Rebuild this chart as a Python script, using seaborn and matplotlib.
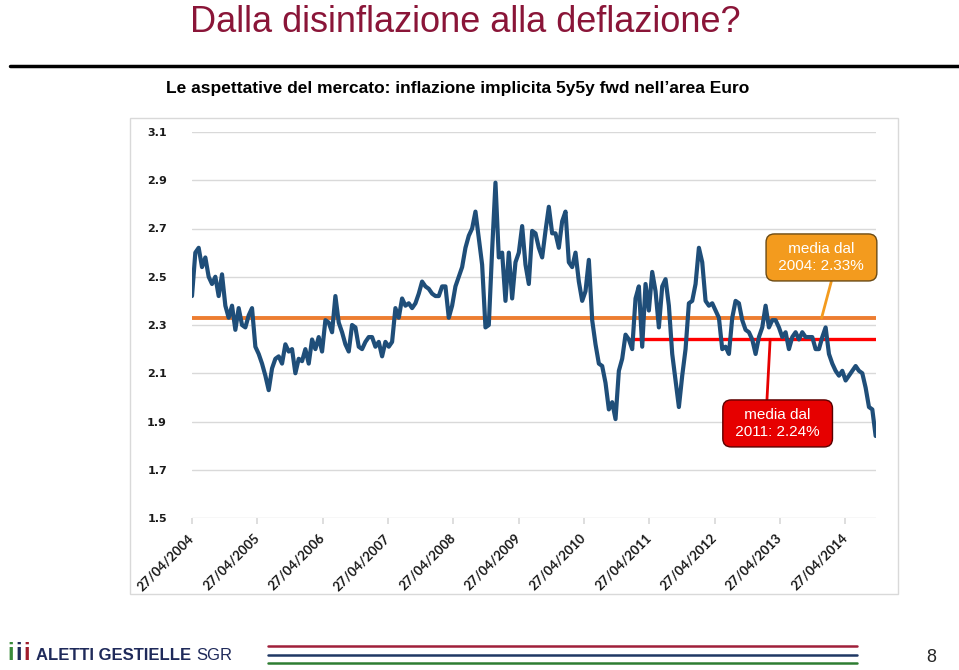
import numpy as np
import pandas as pd
import matplotlib
matplotlib.use('Agg')
import matplotlib.pyplot as plt
import matplotlib.dates as mdates
import seaborn as sns
from matplotlib.patches import Rectangle
from matplotlib.lines import Line2D

# 5y5y fwd breakeven inflation, area Euro (passo ~19 giorni)
be_2004_2006 = [2.42, 2.60, 2.62, 2.54, 2.58, 2.50, 2.47, 2.50, 2.42, 2.51,
                2.38, 2.33, 2.38, 2.28, 2.37, 2.30, 2.29, 2.34, 2.37, 2.21,
                2.18, 2.14, 2.09, 2.03, 2.12, 2.16, 2.17, 2.14, 2.22, 2.19,
                2.20, 2.10, 2.16, 2.15, 2.20]
be_2006_2008 = [2.14, 2.24, 2.20, 2.25, 2.19, 2.32, 2.31, 2.27, 2.42, 2.31,
                2.27, 2.22, 2.19, 2.30, 2.29, 2.21, 2.20, 2.23, 2.25, 2.25,
                2.21, 2.23, 2.17, 2.23, 2.21, 2.23, 2.37, 2.33, 2.41, 2.38,
                2.39, 2.37, 2.39, 2.43]
be_2008_2009 = [2.48, 2.46, 2.45, 2.43, 2.42, 2.42, 2.46, 2.46, 2.33, 2.38,
                2.46, 2.50, 2.54, 2.62, 2.67, 2.70, 2.77, 2.66, 2.55, 2.29,
                2.30, 2.61, 2.89, 2.58, 2.60, 2.40, 2.60, 2.41, 2.56, 2.60,
                2.71, 2.55, 2.47, 2.69]
be_2009_2011 = [2.68, 2.62, 2.58, 2.69, 2.79, 2.68, 2.68, 2.62, 2.73, 2.77,
                2.56, 2.54, 2.60, 2.48, 2.40, 2.44, 2.57, 2.32, 2.22, 2.14,
                2.13, 2.06, 1.95, 1.98, 1.91, 2.11]
be_2011_2014 = [2.16, 2.26, 2.24, 2.20, 2.41, 2.46, 2.21, 2.47, 2.36, 2.52,
                2.44, 2.29, 2.46, 2.49, 2.38, 2.18, 2.07, 1.96, 2.09, 2.20,
                2.39, 2.40, 2.47, 2.62, 2.56, 2.40, 2.38, 2.39, 2.36, 2.33,
                2.20, 2.21, 2.18, 2.33, 2.40, 2.39, 2.32, 2.28, 2.27, 2.24,
                2.18, 2.25, 2.29, 2.38, 2.29, 2.32, 2.32, 2.29, 2.25, 2.27,
                2.20, 2.25, 2.27, 2.24, 2.27, 2.25, 2.25, 2.25, 2.20, 2.20,
                2.25, 2.29, 2.18, 2.14, 2.11, 2.09, 2.11, 2.07, 2.09, 2.11,
                2.13, 2.11, 2.10, 2.04, 1.96, 1.95, 1.84]

start_date = '2004-04-27'
end_date = '2014-10-15'
avg_2004 = 2.33
avg_2011 = 2.24
avg_2011_start = '2011-01-10'
tick_years = list(range(2004, 2015))
y_ticks = [1.5, 1.7, 1.9, 2.1, 2.3, 2.5, 2.7, 2.9, 3.1]

values = be_2004_2006 + be_2006_2008 + be_2008_2009 + be_2009_2011 + be_2011_2014
dates = pd.date_range(start_date, end_date, periods=len(values))
df = pd.DataFrame({'data': dates, 'be': values})

sns.set_theme(style='white')
plt.rcParams['font.family'] = ['Liberation Sans', 'DejaVu Sans']

fig = plt.figure(figsize=(9.59, 6.70), dpi=100)
ax = fig.add_axes([192/959, 1-518/670, 684/959, 386/670])

sns.lineplot(data=df, x='data', y='be', ax=ax, color='#1f4e79', linewidth=3.0, zorder=3)
ax.hlines(avg_2004, dates[0], dates[-1], color='#ed7d31', lw=2.8, zorder=2)
ax.hlines(avg_2011, pd.Timestamp(avg_2011_start), dates[-1], color='#ff0000', lw=2.4, zorder=2)

ax.set_ylim(1.5, 3.1)
ax.set_xlim(pd.Timestamp(start_date), pd.Timestamp('2014-10-17'))
ax.set_yticks(y_ticks)
ax.set_yticklabels([f'{v:.1f}' for v in y_ticks], fontsize=8, fontweight='bold',
                   family='DejaVu Sans', color='#1a1a1a')
ax.tick_params(axis='y', length=0, pad=18)

tick_dates = [pd.Timestamp(f'{y}-04-27') for y in tick_years]
ax.set_xticks(tick_dates)
ax.set_xticklabels([d.strftime('%d/%m/%Y') for d in tick_dates], rotation=45,
                   ha='right', va='center', rotation_mode='anchor',
                   fontsize=9.5, fontweight='bold', family='Lato', color='#1a1a1a')
ax.tick_params(axis='x', length=4, color='#d9d9d9', pad=9, bottom=True)

ax.yaxis.grid(True, color='#d9d9d9', lw=1)
ax.xaxis.grid(False)
ax.set_axisbelow(True)
for s in ax.spines.values():
    s.set_visible(False)
ax.set_xlabel('')
ax.set_ylabel('')

# riquadri di commento
ax.annotate(' media dal \n 2004: 2.33% ', xy=(mdates.date2num(pd.Timestamp('2013-12-17')), avg_2004),
            xytext=(mdates.date2num(pd.Timestamp('2013-12-16')), 2.58),
            ha='center', va='center', color='white', fontsize=11, annotation_clip=False,
            bbox=dict(boxstyle='round,pad=0.55', fc='#f39b1e', ec='#6b4a14', lw=1),
            arrowprops=dict(arrowstyle='-', color='#f39b1e', lw=2, shrinkA=0, shrinkB=0,
                            relpos=(0.63, 0)), zorder=5)
ax.annotate(' media dal \n 2011: 2.24% ', xy=(mdates.date2num(pd.Timestamp('2013-03-04')), avg_2011),
            xytext=(mdates.date2num(pd.Timestamp('2013-04-15')), 1.892),
            ha='center', va='center', color='white', fontsize=11, annotation_clip=False,
            bbox=dict(boxstyle='round,pad=0.55', fc='#e60000', ec='#5a0000', lw=1),
            arrowprops=dict(arrowstyle='-', color='#e60000', lw=2, shrinkA=0, shrinkB=0,
                            relpos=(0.38, 1)), zorder=5)

# cornice del grafico
fig.patches.append(Rectangle((130/959, 1-594/670), 768/959, 476/670, transform=fig.transFigure,
                             fill=False, edgecolor='#d9d9d9', lw=1))

# titolo e sottotitolo
fig.text(465/959, 1-22/670, 'Dalla disinflazione alla deflazione?', ha='center', va='center',
         color='#8a1538', fontsize=26)
fig.add_artist(Line2D([10/959, 1], [1-66/670, 1-66/670], color='black', lw=2.5))
fig.text(458/959, 1-88/670, 'Le aspettative del mercato: inflazione implicita 5y5y fwd nell\u2019area Euro',
         ha='center', va='center', fontsize=12.5, fontweight='bold', color='black')

# pie di pagina
for xi, c in zip([11, 19, 27], ['#3a8a3a', '#1f2a5a', '#a01c2c']):
    fig.text(xi/959, 1-653/670, 'i', fontsize=17, fontweight='bold', color=c, ha='center',
             va='center')
fig.text(36/959, 1-655/670, 'ALETTI GESTIELLE', fontsize=12, fontweight='bold', color='#1f2a5a',
         va='center')
fig.text(196/959, 1-655/670, 'SGR', fontsize=12, color='#1f2a5a', va='center')
for yy, c in zip([646, 655, 663], ['#a0203a', '#1f3864', '#2e7d32']):
    fig.add_artist(Line2D([268/959, 857/959], [1-yy/670, 1-yy/670], color=c, lw=1.8))
fig.text(931/959, 1-657/670, '8', fontsize=13, ha='center', va='center')

fig.savefig('out.png', dpi=100)
